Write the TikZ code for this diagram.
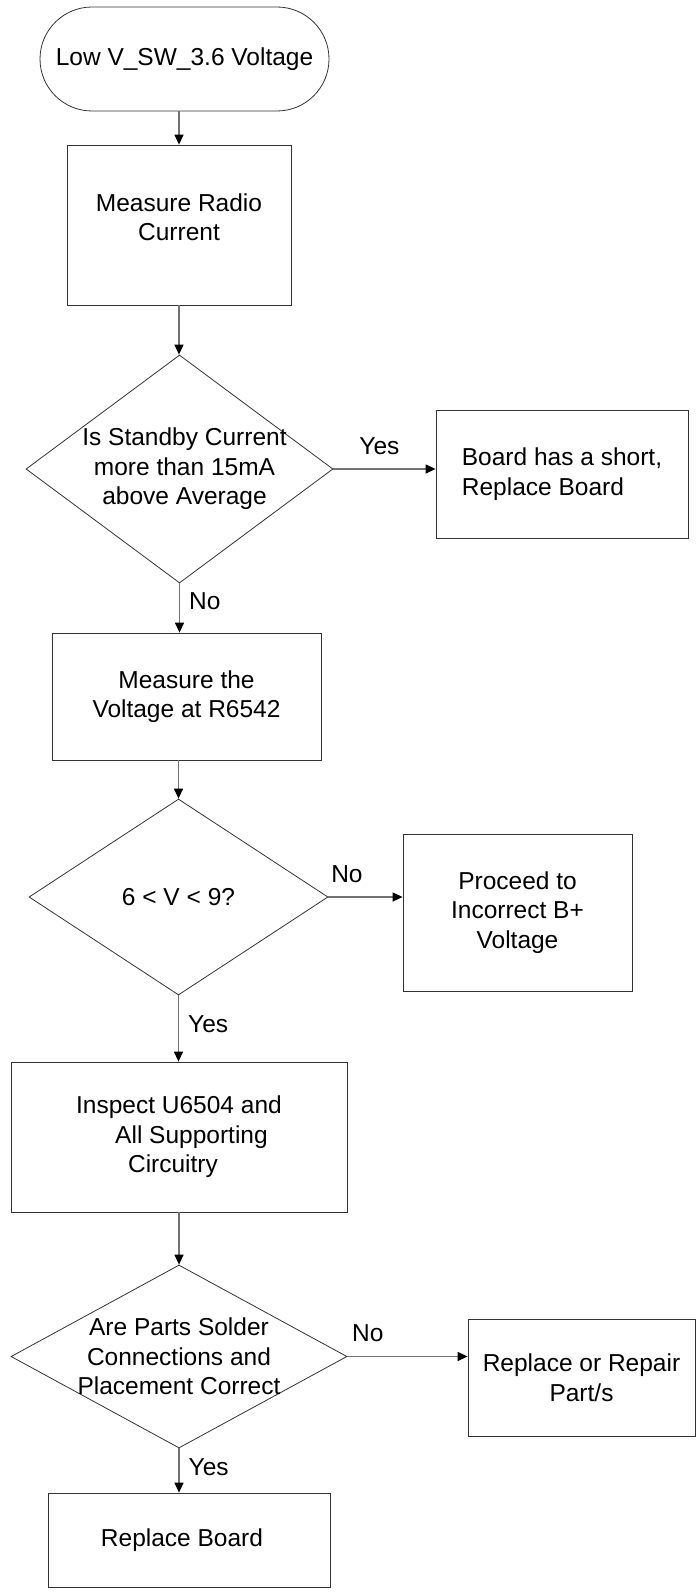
\documentclass[tikz,border=0pt]{standalone}
\usepackage{fontspec}
\setmainfont{Liberation Sans}
\usetikzlibrary{arrows.meta,shapes.geometric}

\begin{document}
\begin{tikzpicture}[x=1pt, y=-1pt, >={Triangle[length=10pt,width=9pt,color=black]},
  every node/.style={font=\fontsize{24.5}{29.5}\selectfont},
  caja/.style={draw=black!80, line width=0.8pt, rectangle, align=center, inner sep=0pt},
  rombo/.style={draw=black!80, line width=0.8pt, diamond, inner sep=0pt},
  flujo/.style={->, draw=black!55, line width=1.3pt},
  etiq/.style={inner sep=2pt}]
  \useasboundingbox (0,0) rectangle (698,1595);
  % inicio y cajas
  \node[caja, rounded corners=52pt, minimum width=289pt, minimum height=104pt] (inicio) at (184.5,59) {Low V\_SW\_3.6 Voltage};
  \node[caja, minimum width=224pt, minimum height=160pt,
    label={[align=center, yshift=8pt]center:Measure Radio\\Current}] (medir) at (179,225) {};
  \node[caja, align=left, minimum width=252pt, minimum height=128pt] (corto) at (562,474) {Board has a short,\\Replace Board};
  \node[caja, minimum width=269pt, minimum height=127pt] (volt) at (186.5,696.5) {Measure the\\Voltage at R6542};
  \node[caja, minimum width=229pt, minimum height=157pt] (bmas) at (517.5,912.5) {Proceed to\\Incorrect B+\\Voltage};
  \node[caja, minimum width=336pt, minimum height=150pt] (insp) at (179,1137) {Inspect U6504 and\\\hspace*{25pt}All Supporting\\Circuitry\hspace*{12pt}};
  \node[caja, minimum width=227pt, minimum height=117pt] (rep) at (581.5,1377.5) {Replace or Repair\\Part/s};
  \node[caja, minimum width=282pt, minimum height=94pt] (placa) at (189,1540) {Replace Board\hspace*{14pt}};
  % decisiones
  \node[rombo, minimum width=307pt, minimum height=228pt,
    label={[align=center, xshift=5pt]center:Is Standby Current\\more than 15mA\\above Average}] (rombo1) at (179.5,469) {};
  \node[rombo, minimum width=299pt, minimum height=196pt,
    label={[align=center]center:6 < V < 9?}] (rombo2) at (178.5,897) {};
  \node[rombo, minimum width=336pt, minimum height=183pt,
    label={[align=center]center:Are Parts Solder\\Connections and\\Placement Correct}] (rombo3) at (179,1356.5) {};
  % flechas
  \draw[flujo] (inicio.south -| medir.north) -- (medir.north);
  \draw[flujo] (medir.south) -- (medir.south |- rombo1.north);
  \draw[flujo] (rombo1.east) -- (rombo1.east -| corto.west) node[etiq, above=12pt, pos=0.45] {Yes};
  \draw[flujo] (rombo1.south) -- (rombo1.south |- volt.north) node[etiq, right=7pt, pos=0.36] {No};
  \draw[flujo] (volt.south -| rombo2.north) -- (rombo2.north);
  \draw[flujo] (rombo2.east) -- (rombo2.east -| bmas.west) node[etiq, above=12pt, pos=0.25] {No};
  \draw[flujo] (rombo2.south) -- (rombo2.south |- insp.north) node[etiq, right=7pt, pos=0.43] {Yes};
  \draw[flujo] (insp.south) -- (insp.south |- rombo3.north);
  \draw[flujo] (rombo3.east) -- (rombo3.east -| rep.west) node[etiq, above=12pt, pos=0.17] {No};
  \draw[flujo] (rombo3.south) -- (rombo3.south |- placa.north) node[etiq, right=7pt, pos=0.43] {Yes};
\end{tikzpicture}
\end{document}
